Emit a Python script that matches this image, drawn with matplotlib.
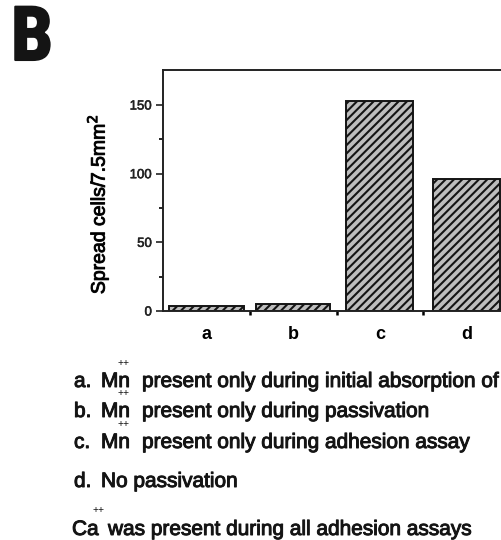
import matplotlib
matplotlib.use('Agg')
import matplotlib.pyplot as plt
import matplotlib.patheffects as pe
from matplotlib.ticker import FixedLocator

# ---- data ----
categories = ['a', 'b', 'c', 'd']
values = [4, 5, 153, 96]
yticks = [0, 50, 100, 150]
yminor = [25, 75, 125]
ylabel = 'Spread cells/7.5mm$^2$'
panel = 'B'
note_keys = ['a.', 'b.', 'c.', 'd.']
note_ions = ['Mn', 'Mn', 'Mn', '']
note_texts = ['present only during initial absorption of',
              'present only during passivation',
              'present only during adhesion assay',
              'No passivation']
footer_ion = 'Ca'
footer_text = 'was present during all adhesion assays'

# ---- style / layout ----
W, H = 502, 540
bar_widths = [0.86, 0.86, 0.77, 0.77]
ink = '#141414'
plt.rcParams['font.family'] = ['Liberation Sans', 'DejaVu Sans']
plt.rcParams['hatch.linewidth'] = 1.5
plt.rcParams['hatch.color'] = ink
plt.rcParams['text.color'] = ink

bold_fx = [pe.withStroke(linewidth=0.7, foreground=ink)]

fig = plt.figure(figsize=(W / 100, H / 100), dpi=100)
fig.patch.set_facecolor('white')

def fx(x):
    return x / W

def fy(y):
    return 1 - y / H

ax = fig.add_axes([fx(163), fy(311), (510 - 163) / W, (311 - 70) / H])
ax.bar(range(len(categories)), values, width=bar_widths, color='#bdbdbd',
       edgecolor=ink, hatch='////', linewidth=1.4)
ax.set_xlim(-0.5, len(categories) - 0.5)
ax.set_ylim(0, 175.5)

for s in ['left', 'top', 'bottom', 'right']:
    ax.spines[s].set_linewidth(1.4)
    ax.spines[s].set_color('#222222')

ax.set_yticks(yticks)
ax.yaxis.set_minor_locator(FixedLocator(yminor))
ax.tick_params(axis='y', which='major', length=5, width=1.2, direction='out',
               labelsize=9.5, pad=3, colors='#222222')
ax.tick_params(axis='y', which='minor', length=3, width=1.2, direction='out')

ax.set_xticks(range(len(categories)))
ax.set_xticklabels(categories, fontsize=13, fontweight='bold')
ax.xaxis.set_minor_locator(FixedLocator([i + 0.5 for i in range(len(categories) - 1)]))
ax.tick_params(axis='x', which='major', length=0, pad=11)
ax.tick_params(axis='x', which='minor', length=3, width=1.8, direction='out')
for t in ax.get_yticklabels():
    t.set_path_effects([pe.withStroke(linewidth=0.4, foreground='#222222')])

ax.set_ylabel(ylabel, fontsize=14)
ax.yaxis.label.set_va('center')
ax.yaxis.label.set_path_effects(bold_fx)
ax.yaxis.set_label_coords((98 - 163) / (510 - 163), (311 - 204) / (311 - 70))

fig.text(fx(11), fy(60), panel, fontsize=54, fontweight='bold',
         family=['Roboto Condensed', 'Roboto', 'DejaVu Sans'], va='baseline', ha='left',
         path_effects=[pe.withStroke(linewidth=1.5, foreground=ink)])

note_font = 15
baselines = [387, 417, 448, 487]
for key, ion, txt, yb in zip(note_keys, note_ions, note_texts, baselines):
    fig.text(fx(74), fy(yb), key, fontsize=note_font, va='baseline', path_effects=bold_fx)
    if ion:
        fig.text(fx(101), fy(yb), ion, fontsize=note_font, va='baseline', path_effects=bold_fx)
        fig.text(fx(124), fy(yb - 19), '++', fontsize=7.5, va='bottom', ha='center')
        fig.text(fx(142), fy(yb), txt, fontsize=note_font, va='baseline', path_effects=bold_fx)
    else:
        fig.text(fx(101), fy(yb), txt, fontsize=note_font, va='baseline', path_effects=bold_fx)

fig.text(fx(72), fy(535), footer_ion, fontsize=note_font, va='baseline', path_effects=bold_fx)
fig.text(fx(99), fy(515), '++', fontsize=7.5, va='bottom', ha='center')
fig.text(fx(108), fy(535), footer_text, fontsize=note_font, va='baseline', path_effects=bold_fx)

fig.savefig('out.png', dpi=100, facecolor='white')
